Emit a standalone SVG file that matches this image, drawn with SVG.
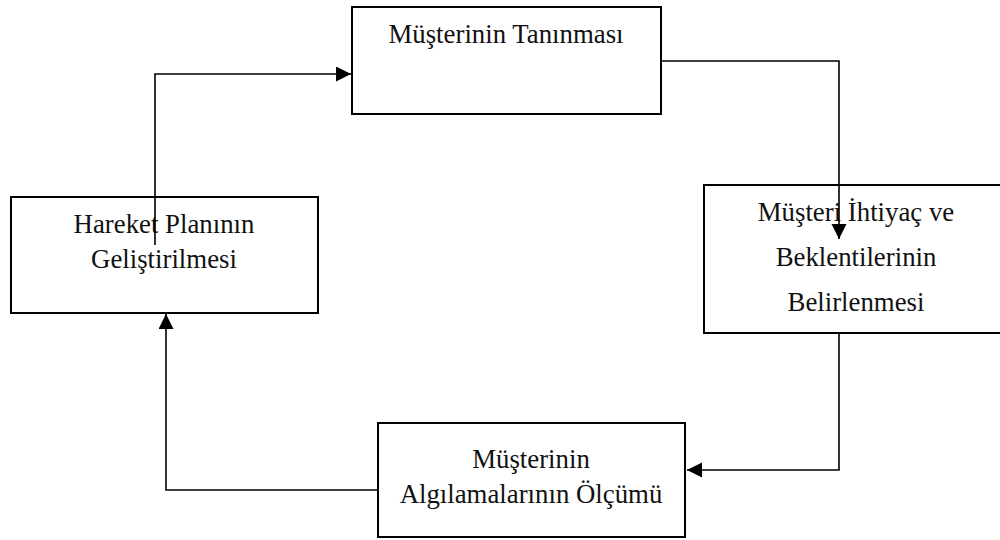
<svg xmlns="http://www.w3.org/2000/svg" width="1000" height="540" viewBox="0 0 1000 540">
<style>
.box{fill:none;stroke:#000;stroke-width:2}
.lbl{font-family:"Liberation Serif","Times New Roman",serif;font-size:26.8px;fill:#111;text-anchor:middle}
.con{fill:none;stroke:#000;stroke-width:1.6}
</style>
<defs>
<marker id="arr" markerUnits="userSpaceOnUse" markerWidth="16" markerHeight="16" viewBox="0 0 16 16" refX="15" refY="7.5" orient="auto">
<path d="M0,0 L15,7.5 L0,15 Z" fill="#000"/>
</marker>
</defs>
<rect width="1000" height="540" fill="#fff"/>
<g id="n1">
<rect class="box" x="352" y="7" width="309" height="107"/>
<text class="lbl" x="506" y="43">Müşterinin Tanınması</text>
</g>
<g id="n2">
<rect class="box" x="704" y="185" width="304" height="148"/>
<text class="lbl" x="856" y="221">Müşteri İhtiyaç ve</text>
<text class="lbl" x="856" y="266">Beklentilerinin</text>
<text class="lbl" x="856" y="311">Belirlenmesi</text>
</g>
<g id="n3">
<rect class="box" x="378" y="423" width="307" height="114"/>
<text class="lbl" x="531" y="468">Müşterinin</text>
<text class="lbl" x="531" y="503">Algılamalarının Ölçümü</text>
</g>
<g id="n4">
<rect class="box" x="11" y="197" width="307" height="116"/>
<text class="lbl" x="164" y="233">Hareket Planının</text>
<text class="lbl" x="164" y="268">Geliştirilmesi</text>
</g>
<g id="connectors">
<polyline class="con" points="661,61 839,61 839,239" marker-end="url(#arr)"/>
<polyline class="con" points="839,333 839,470 687,470" marker-end="url(#arr)"/>
<polyline class="con" points="378,490 166,490 166,314" marker-end="url(#arr)"/>
<polyline class="con" points="155,245 155,74 351,74" marker-end="url(#arr)"/>
</g>
</svg>
